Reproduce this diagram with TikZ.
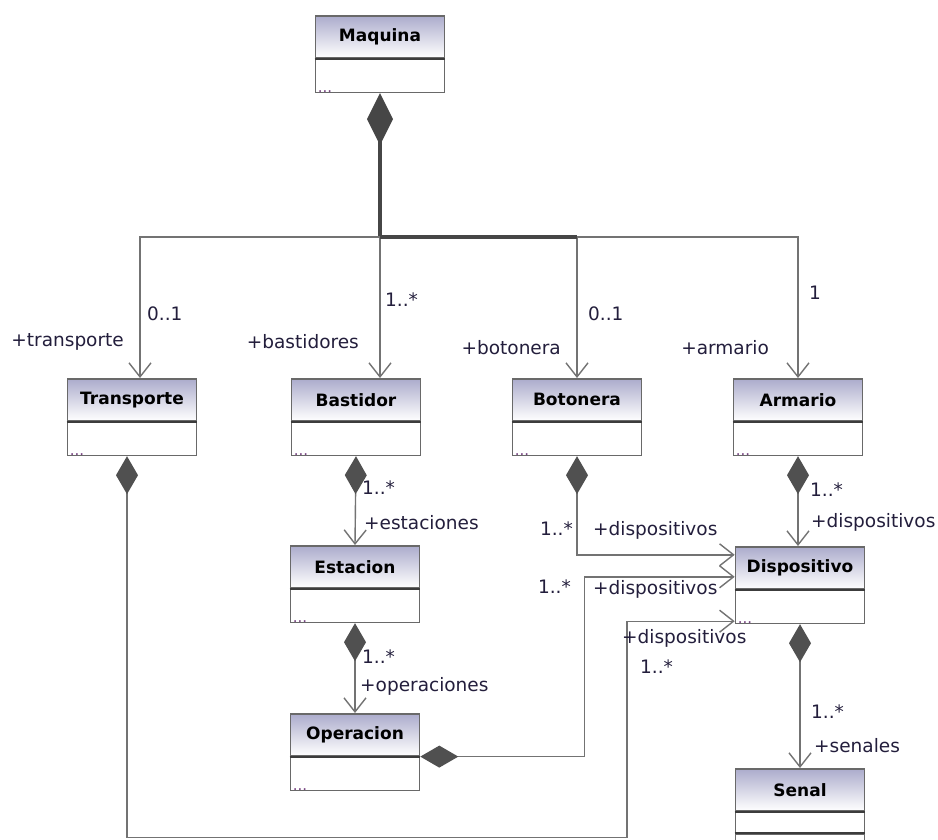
\documentclass[tikz,border=0pt]{standalone}
\usepackage{fontspec}
\setmainfont{DejaVu Sans}
\usetikzlibrary{arrows.meta}

\definecolor{boxgray}{RGB}{105,105,105}
\definecolor{sepgray}{RGB}{60,60,60}
\definecolor{headtop}{RGB}{172,172,204}
\definecolor{linegray}{RGB}{115,115,115}
\definecolor{trunkgray}{RGB}{70,70,70}
\definecolor{diamgray}{RGB}{80,80,80}
\definecolor{lbltext}{RGB}{35,30,60}
\definecolor{dotpurple}{RGB}{120,70,130}

\tikzset{
classhead/.style={draw=boxgray, line width=1.6pt, minimum width=129pt, minimum height=42pt, inner sep=0pt,
  top color=headtop, bottom color=white, anchor=north, font=\fontsize{17}{20}\selectfont\bfseries},
classbody/.style={draw=boxgray, line width=1.6pt, minimum width=129pt, minimum height=33pt, inner sep=0pt,
  fill=white, anchor=north},
sepline/.style={draw=sepgray, line width=1.8pt},
dots/.style={anchor=south west, inner sep=0pt, text=dotpurple, font=\fontsize{15}{15}\selectfont},
lbl/.style={text=lbltext, inner sep=1pt, font=\fontsize{18.5}{20}\selectfont},
nav/.style={draw=linegray, line width=1.4pt, -{Straight Barb[length=14pt,width=22pt]}},
comp/.style={draw=linegray, line width=1.4pt,
  {Diamond[length=38pt,width=22pt,color=diamgray]}-{Straight Barb[length=14pt,width=22pt]}},
trunk/.style={draw=trunkgray, line width=3.5pt},
}

\begin{document}
\begin{tikzpicture}[x=1pt,y=-1pt]
\useasboundingbox [fill=white] (0,0) rectangle (938,839);

\foreach \nm/\cx/\cy/\ttl in {maquina/380/15/Maquina, transporte/132/378/Transporte,
  bastidor/356/378/Bastidor, botonera/577/378/Botonera, armario/798/378/Armario,
  estacion/355/545/Estacion, dispositivo/800/546/Dispositivo, operacion/355/713/Operacion}{
\node [classhead] (\nm) at (\cx,\cy) {\ttl};
\node [classbody] (\nm-b) at (\nm.south) {};
\draw [sepline] (\nm.south west) -- (\nm.south east);
\node [dots] (\nm-d) at ([xshift=3pt,yshift=1pt]\nm-b.south west) {...};
}

% Senal has two empty compartments
\node [classhead] (senal) at (800,768) {Senal};
\node [classbody, minimum height=20pt] (senal-b) at (senal.south) {};
\node [classbody, minimum height=40pt] (senal-c) at (senal-b.south) {};
\draw [sepline] (senal.south west) -- (senal.south east);
\draw [sepline] (senal-b.south west) -- (senal-b.south east);

% Maquina and its parts
\coordinate (hub) at (380,237);
\draw [trunk, {Diamond[length=52pt,width=26pt]}-] (maquina-b.south) -- (hub);
\draw [nav] (hub) -| ([xshift=8pt]transporte.north);
\draw [nav] (hub) -- (hub |- bastidor.north);
\draw [nav] (hub) -| (botonera.north);
\draw [nav] (hub) -| (armario.north);
\draw [trunk] (hub) -- (hub -| botonera.north);

\draw [comp] (bastidor-b.south) -- (estacion.north);
\draw [comp] (estacion-b.south) -- (operacion.north);
\draw [comp] (armario-b.south) -- (armario-b.south |- dispositivo.north);
\draw [comp] (dispositivo-b.south) -- (senal.north);
\draw [comp] (botonera-b.south) |- ([yshift=13pt]dispositivo.west);
\draw [comp] (operacion.south east) -- ++(164,0) |- ([yshift=-9pt]dispositivo.west);
\draw [comp] ([xshift=-5pt]transporte-b.south) -- ++(0,381) -- ++(500,0) |- ([yshift=3pt]dispositivo-b.south west);

\node [lbl, anchor=west] (mTransporte) at (146,314) {0..1};
\node [lbl, anchor=east] (rTransporte) at (125,342) {+transporte};
\node [lbl, anchor=west] (mBastidor) at (384,300) {1..*};
\node [lbl, anchor=east] (rBastidor) at (360,342) {+bastidores};
\node [lbl, anchor=west] (mBotonera) at (587,314) {0..1};
\node [lbl, anchor=east] (rBotonera) at (562,348) {+botonera};
\node [lbl, anchor=west] (mArmario) at (808,293) {1};
\node [lbl, anchor=east] (rArmario) at (770,348) {+armario};

\node [lbl, anchor=west] (mEstacion) at (361,488) {1..*};
\node [lbl, anchor=west] (rEstacion) at (363,523) {+estaciones};
\node [lbl, anchor=west] (mOperacion) at (361,657) {1..*};
\node [lbl, anchor=west] (rOperacion) at (359,686) {+operaciones};

\node [lbl, anchor=east] (mDispA) at (574,529) {1..*};
\node [lbl, anchor=west] (rDispA) at (592,530) {+dispositivos};
\node [lbl, anchor=east] (mDispB) at (572,587) {1..*};
\node [lbl, anchor=west] (rDispB) at (592,589) {+dispositivos};
\node [lbl, anchor=west] (rDispC) at (621,638) {+dispositivos};
\node [lbl, anchor=west] (mDispC) at (639,667) {1..*};
\node [lbl, anchor=west] (mDispD) at (809,490) {1..*};
\node [lbl, anchor=west] (rDispD) at (810,522) {+dispositivos};
\node [lbl, anchor=west] (mSenal) at (810,712) {1..*};
\node [lbl, anchor=west] (rSenal) at (813,746) {+senales};
\end{tikzpicture}
\end{document}
